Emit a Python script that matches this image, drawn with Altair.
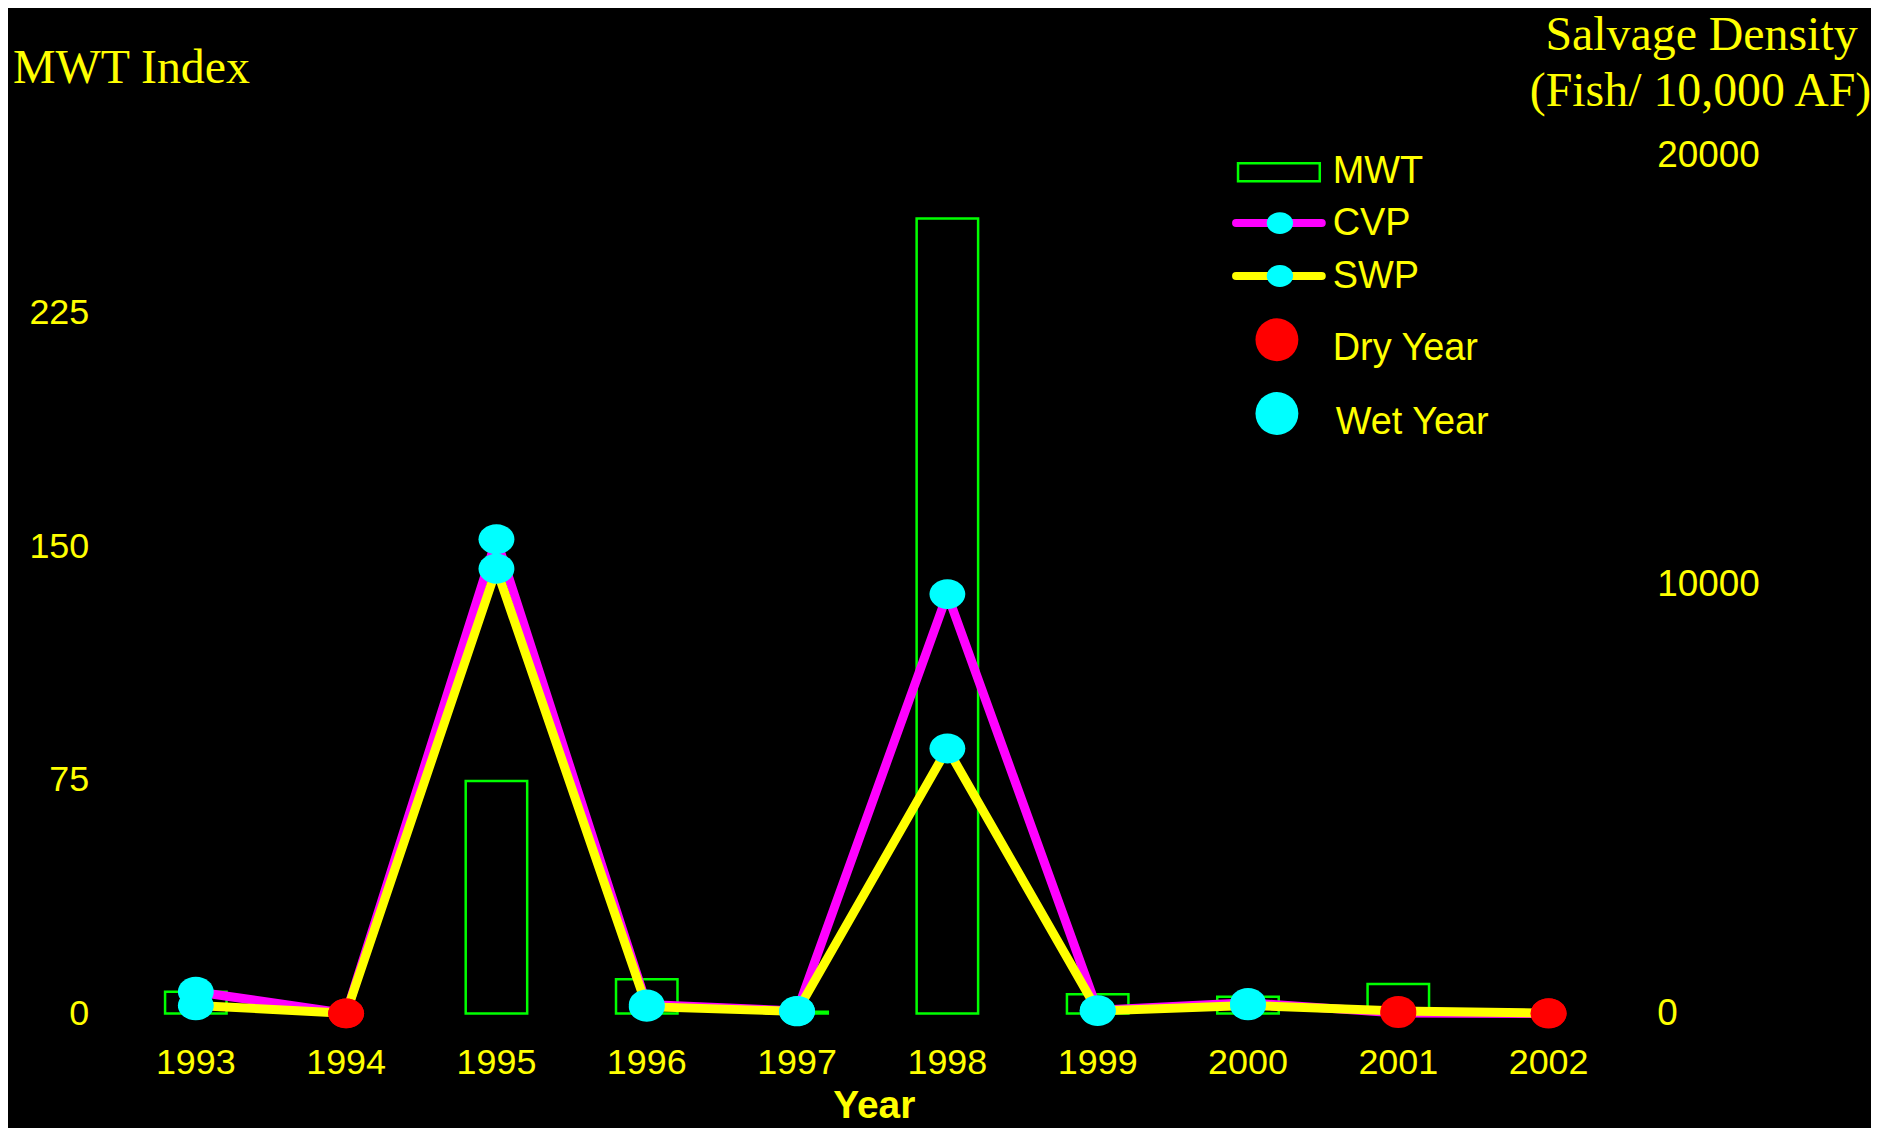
import altair as alt
import pandas as pd

# ---- data ----
years = [1993, 1994, 1995, 1996, 1997, 1998, 1999, 2000, 2001, 2002]
mwt_index = [7.0, None, 74.6, 11.0, 0.6, 255.1, 6.2, 5.4, 9.5, None]
cvp_density = [510, 5, 11060, 210, 60, 9780, 80, 250, 10, 0]
swp_density = [190, 5, 10370, 160, 50, 6180, 60, 190, 60, 10]
water_year = ["Wet", "Dry", "Wet", "Wet", "Wet", "Wet", "Wet", "Wet", "Dry", "Dry"]

left_ticks = [0, 75, 150, 225]
right_ticks = [0, 10000, 20000]

YELLOW = "#ffff00"
GREEN = "#00ff00"
MAGENTA = "#ff00ff"
CYAN = "#00ffff"
RED = "#ff0000"
SANS = "Liberation Sans"
SERIF = "Liberation Serif"
ELLIPSE = "M-1,0A1,0.833,0,1,0,1,0A1,0.833,0,1,0,-1,0Z"

W, H = 1530, 938

bars_df = pd.DataFrame({"year": years, "mwt": mwt_index})
dens_df = pd.DataFrame({
    "year": years * 2,
    "series": ["CVP"] * len(years) + ["SWP"] * len(years),
    "density": cvp_density + swp_density,
    "wy": water_year * 2,
})

xscale = alt.Scale(type="band", paddingInner=0.591, paddingOuter=0.3686)
xaxis = alt.Axis(title=None, domain=False, ticks=False, grid=False, labelAngle=0,
                 labelColor=YELLOW, labelFont=SANS, labelFontSize=36, labelPadding=32)
X = alt.X("year:O", scale=xscale, axis=xaxis)

bars = alt.Chart(bars_df).mark_bar(fill="black", stroke=GREEN, strokeWidth=2.5).encode(
    x=X,
    y=alt.Y("mwt:Q", scale=alt.Scale(domain=[0, 300], nice=False),
            axis=alt.Axis(title=None, values=left_ticks, domain=False, ticks=False, grid=False,
                          labelColor=YELLOW, labelFont=SANS, labelFontSize=36, labelPadding=21)),
)

Yd = alt.Y("density:Q", scale=alt.Scale(domain=[0, 21800], nice=False),
           axis=alt.Axis(title=None, orient="right", values=right_ticks, format="d",
                         domain=False, ticks=False, grid=False,
                         labelColor=YELLOW, labelFont=SANS, labelFontSize=37, labelPadding=22))

cvp_line = alt.Chart(dens_df).transform_filter(alt.datum.series == "CVP").mark_line(
    color=MAGENTA, strokeWidth=9).encode(x=X, y=Yd)
swp_line = alt.Chart(dens_df).transform_filter(alt.datum.series == "SWP").mark_line(
    color=YELLOW, strokeWidth=9).encode(x=X, y=Yd)
pts = alt.Chart(dens_df).mark_point(filled=True, shape=ELLIPSE, size=1296, opacity=1).encode(
    x=X, y=Yd,
    fill=alt.Fill("wy:N", scale=alt.Scale(domain=["Wet", "Dry"], range=[CYAN, RED]), legend=None),
)

one = pd.DataFrame({"k": [0]})


def txt(s, x, y, font=SANS, size=38, align="left", baseline="middle", weight="normal"):
    return alt.Chart(one).mark_text(text=s, font=font, fontSize=size, color=YELLOW,
                                    align=align, baseline=baseline, fontWeight=weight).encode(
        x=alt.value(x), y=alt.value(y))


# titles
t_left = txt("MWT Index", -97, 4, font=SERIF, size=48, baseline="alphabetic")
t_r1 = txt("Salvage Density", 1597, -29, font=SERIF, size=48, align="center", baseline="alphabetic")
t_r2 = txt("(Fish/ 10,000 AF)", 1596, 28, font=SERIF, size=48, align="center", baseline="alphabetic")
t_year = txt("Year", 767, 1043, size=39, align="center", baseline="alphabetic", weight="bold")

# legend
lg_rect = alt.Chart(one).mark_rect(fill="black", stroke=GREEN, strokeWidth=2.5).encode(
    x=alt.value(1132), x2=alt.value(1214), y=alt.value(85), y2=alt.value(103))
lg_cvp = alt.Chart(one).mark_rule(color=MAGENTA, strokeWidth=8, strokeCap="round").encode(
    x=alt.value(1130), x2=alt.value(1216), y=alt.value(145))
lg_swp = alt.Chart(one).mark_rule(color=YELLOW, strokeWidth=8, strokeCap="round").encode(
    x=alt.value(1130), x2=alt.value(1216), y=alt.value(198))
lg_cvp_dot = alt.Chart(one).mark_point(filled=True, shape=ELLIPSE, size=700, color=CYAN, opacity=1).encode(
    x=alt.value(1174), y=alt.value(145))
lg_swp_dot = alt.Chart(one).mark_point(filled=True, shape=ELLIPSE, size=700, color=CYAN, opacity=1).encode(
    x=alt.value(1174), y=alt.value(198))
lg_dry = alt.Chart(one).mark_point(filled=True, shape="circle", size=1849, color=RED, opacity=1).encode(
    x=alt.value(1171), y=alt.value(262))
lg_wet = alt.Chart(one).mark_point(filled=True, shape="circle", size=1849, color=CYAN, opacity=1).encode(
    x=alt.value(1171), y=alt.value(336))
lg_t1 = txt("MWT", 1227, 94)
lg_t2 = txt("CVP", 1227, 146)
lg_t3 = txt("SWP", 1227, 199)
lg_t4 = txt("Dry Year", 1227, 271)
lg_t5 = txt("Wet Year", 1230, 346)

right_layer = alt.layer(cvp_line, swp_line, pts)

chart = alt.layer(
    bars, right_layer,
    t_left, t_r1, t_r2, t_year,
    lg_rect, lg_cvp, lg_swp, lg_cvp_dot, lg_swp_dot, lg_dry, lg_wet,
    lg_t1, lg_t2, lg_t3, lg_t4, lg_t5,
).resolve_scale(y="independent").properties(
    width=W, height=H,
    autosize=alt.AutoSizeParams(type="none"),
    padding={"left": 102, "top": 69, "right": 237, "bottom": 113},
).configure(background="black").configure_view(strokeWidth=0)

chart.save("out.html", embed_options={"renderer": "svg", "actions": False})
